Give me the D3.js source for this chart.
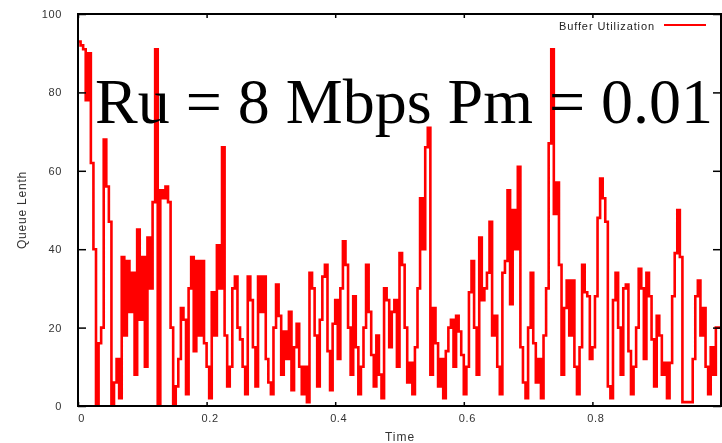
<!DOCTYPE html>
<html>
<head>
<meta charset="utf-8">
<script src="https://cdn.jsdelivr.net/npm/d3@7"></script>
<style>
  html, body { margin: 0; padding: 0; background: #fff; }
  svg { display: block; }
</style>
</head>
<body>
<svg id="chart" width="722" height="443"></svg>
<script>
// Queue length samples, one every timeStep seconds, starting at t = 0
const timeStep = 0.004;
const queueLength = [
  93, 92, 91, 78, 90, 62, 40, 0, 16, 20,
  68, 56, 47, 0, 6, 12, 2, 38, 18, 37,
  24, 34, 8, 45, 22, 38, 10, 43, 30, 52,
  91, 0, 55, 53, 56, 52, 20, 0, 5, 12,
  25, 22, 3, 30, 38, 14, 37, 18, 37, 16,
  10, 2, 29, 18, 41, 30, 66, 18, 5, 10,
  30, 33, 20, 17, 10, 3, 33, 27, 15, 5,
  33, 24, 33, 12, 6, 3, 20, 31, 23, 8,
  19, 12, 24, 4, 15, 21, 10, 3, 10, 1,
  34, 30, 18, 5, 22, 33, 36, 14, 4, 21,
  27, 12, 30, 42, 36, 20, 8, 28, 15, 3,
  10, 20, 36, 24, 13, 5, 18, 8, 2, 30,
  27, 15, 24, 27, 10, 39, 36, 20, 6, 11,
  3, 15, 30, 53, 40, 66, 71, 8, 25, 16,
  5, 12, 2, 14, 20, 22, 10, 23, 19, 13,
  3, 10, 29, 37, 20, 8, 43, 27, 30, 34,
  47, 18, 23, 10, 3, 34, 37, 55, 26, 50,
  40, 61, 15, 6, 2, 20, 34, 16, 6, 12,
  2, 18, 30, 67, 91, 49, 57, 36, 8, 25,
  32, 18, 32, 10, 3, 15, 36, 29, 28, 12,
  15, 28, 48, 58, 53, 47, 5, 2, 27, 34,
  20, 8, 30, 31, 14, 3, 10, 20, 35, 30,
  12, 34, 28, 17, 5, 23, 18, 8, 11, 2,
  11, 28, 39, 50, 38, 1, 1, 1, 1, 12,
  28, 32, 18, 25, 10, 3, 15, 8, 20, 20
];

const xTicks = [0, 0.2, 0.4, 0.6, 0.8, 1];
const yTicks = [0, 20, 40, 60, 80, 100];
const xTickLabels = ["0", "0.2", "0.4", "0.6", "0.8", "1"];
const yTickLabels = ["0", "20", "40", "60", "80", "100"];

const seriesName = "Buffer Utilization";
const xTitle = "Time";
const yTitle = "Queue Lenth";
const caption = "Ru = 8 Mbps Pm = 0.01";

const points = queueLength.map((q, i) => ({ t: i * timeStep, q }));
points.push({ t: 1, q: queueLength[queueLength.length - 1] });

const svg = d3.select("#chart");
const plot = { left: 78, right: 721, top: 14, bottom: 406 };

const x = d3.scaleLinear().domain([0, 1]).range([plot.left, plot.right]);
const y = d3.scaleLinear().domain([0, 100]).range([plot.bottom, plot.top]);

// soft look of the small gnuplot lettering
const defs = svg.append("defs");
defs.append("filter").attr("id", "soft")
  .append("feGaussianBlur").attr("stdDeviation", 0.45);

const smallFont = "'Liberation Sans', Arial, sans-serif";

// clip for the data
defs.append("clipPath").attr("id", "plotClip")
  .append("rect")
  .attr("x", plot.left).attr("y", plot.top)
  .attr("width", plot.right - plot.left).attr("height", plot.bottom - plot.top);

// queue length as a step trace
const line = d3.line()
  .x(d => x(d.t))
  .y(d => y(d.q))
  .curve(d3.curveStepAfter);

svg.append("path")
  .datum(points)
  .attr("clip-path", "url(#plotClip)")
  .attr("fill", "none")
  .attr("stroke", "#ff0000")
  .attr("stroke-width", 2.6)
  .attr("d", line);

// axes with inward ticks, mirrored on the opposite sides
const tickLen = 8;
const axisLeft = d3.axisLeft(y).tickValues(yTicks).tickSize(-tickLen)
  .tickFormat((d, i) => yTickLabels[i]).tickPadding(tickLen + 8);
const axisRight = d3.axisRight(y).tickValues(yTicks).tickSize(-tickLen).tickFormat("");
const axisBottom = d3.axisBottom(x).tickValues(xTicks).tickSize(-tickLen / 2)
  .tickFormat((d, i) => xTickLabels[i]).tickPadding(tickLen);
const axisTop = d3.axisTop(x).tickValues(xTicks).tickSize(-tickLen / 2).tickFormat("");

function styleAxis(g) {
  g.select(".domain").remove();
  g.selectAll(".tick line").attr("stroke", "#000").attr("stroke-width", 1.5);
  g.selectAll(".tick text")
    .attr("fill", "#333")
    .attr("font-family", smallFont)
    .attr("font-size", 11)
    .attr("letter-spacing", 0.6)
    .attr("filter", "url(#soft)");
}

svg.append("g").attr("transform", `translate(${plot.left},0)`).call(axisLeft).call(styleAxis);
svg.append("g").attr("transform", `translate(${plot.right},0)`).call(axisRight).call(styleAxis);
svg.append("g").attr("transform", `translate(0,${plot.bottom})`).call(axisBottom).call(styleAxis)
  .selectAll(".tick text").attr("dx", 3);
svg.append("g").attr("transform", `translate(0,${plot.top})`).call(axisTop).call(styleAxis);

// frame
svg.append("rect")
  .attr("x", plot.left).attr("y", plot.top)
  .attr("width", plot.right - plot.left).attr("height", plot.bottom - plot.top)
  .attr("fill", "none").attr("stroke", "#000").attr("stroke-width", 2);

// axis titles
svg.append("text")
  .attr("x", 400).attr("y", 441)
  .attr("text-anchor", "middle")
  .attr("font-family", smallFont).attr("font-size", 12)
  .attr("letter-spacing", 1)
  .attr("fill", "#333").attr("filter", "url(#soft)")
  .text(xTitle);

svg.append("text")
  .attr("transform", "translate(26,210) rotate(-90)")
  .attr("text-anchor", "middle")
  .attr("font-family", smallFont).attr("font-size", 12)
  .attr("letter-spacing", 0.8)
  .attr("fill", "#333").attr("filter", "url(#soft)")
  .text(yTitle);

// key
svg.append("text")
  .attr("x", 655).attr("y", 30)
  .attr("text-anchor", "end")
  .attr("font-family", smallFont).attr("font-size", 11)
  .attr("letter-spacing", 0.9)
  .attr("fill", "#222").attr("filter", "url(#soft)")
  .text(seriesName);

svg.append("line")
  .attr("x1", 664).attr("x2", 706)
  .attr("y1", 25).attr("y2", 25)
  .attr("stroke", "#ff0000").attr("stroke-width", 2);

// run parameters
svg.append("text")
  .attr("x", 95).attr("y", 123)
  .attr("font-family", "'Liberation Serif', 'Times New Roman', serif")
  .attr("font-size", 64)
  .attr("fill", "#000")
  .text(caption);
</script>
</body>
</html>
